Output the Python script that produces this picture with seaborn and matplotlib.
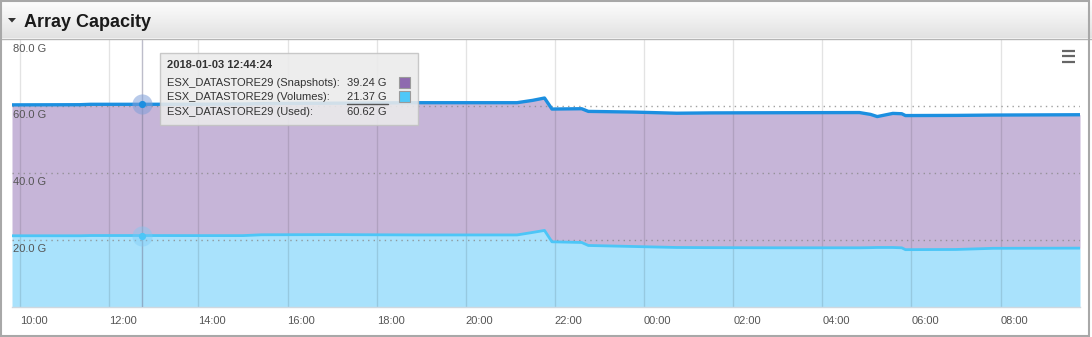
import matplotlib
matplotlib.use("Agg")
import matplotlib.pyplot as plt
import seaborn as sns
import pandas as pd
import numpy as np
from matplotlib.patches import Rectangle, Polygon
from matplotlib.lines import Line2D

# ---------------- data ----------------
times = ["2018-01-03 09:49:00", "2018-01-03 11:20:00", "2018-01-03 11:35:00", "2018-01-03 12:44:24",
         "2018-01-03 14:00:00", "2018-01-03 15:00:00", "2018-01-03 15:25:00", "2018-01-03 17:00:00",
         "2018-01-03 18:55:00", "2018-01-03 21:09:00", "2018-01-03 21:30:00", "2018-01-03 21:46:00",
         "2018-01-03 21:56:00", "2018-01-03 22:36:00", "2018-01-03 22:45:00", "2018-01-03 23:45:00",
         "2018-01-04 00:44:00", "2018-01-04 01:30:00", "2018-01-04 03:00:00", "2018-01-04 04:50:00",
         "2018-01-04 05:05:00", "2018-01-04 05:14:00", "2018-01-04 05:35:00", "2018-01-04 05:47:00",
         "2018-01-04 05:52:00", "2018-01-04 07:00:00", "2018-01-04 07:50:00", "2018-01-04 09:47:00"]
used = [60.45, 60.50, 60.62, 60.62,
        60.65, 60.70, 60.85, 60.95,
        61.10, 61.10, 61.80, 62.50,
        59.20, 59.30, 58.50, 58.30,
        57.95, 58.05, 58.10, 58.15,
        57.60, 56.95, 57.90, 57.80,
        57.25, 57.30, 57.40, 57.50]
volumes = [21.30, 21.30, 21.37, 21.37,
           21.35, 21.35, 21.60, 21.65,
           21.55, 21.55, 22.30, 22.90,
           19.50, 19.30, 18.40, 18.10,
           17.80, 17.75, 17.70, 17.70,
           17.75, 17.80, 17.80, 17.70,
           17.15, 17.20, 17.55, 17.60]
y_ticks = [20, 40, 60, 80]
x_ticks = ["2018-01-03 10:00:00", "2018-01-03 12:00:00", "2018-01-03 14:00:00", "2018-01-03 16:00:00",
           "2018-01-03 18:00:00", "2018-01-03 20:00:00", "2018-01-03 22:00:00", "2018-01-04 00:00:00",
           "2018-01-04 02:00:00", "2018-01-04 04:00:00", "2018-01-04 06:00:00", "2018-01-04 08:00:00"]
x_tick_labels = ["10:00", "12:00", "14:00", "16:00", "18:00", "20:00",
                 "22:00", "00:00", "02:00", "04:00", "06:00", "08:00"]
title = "Array Capacity"
tip_time = "2018-01-03 12:44:24"
tip_labels = ["ESX_DATASTORE29 (Snapshots):", "ESX_DATASTORE29 (Volumes):", "ESX_DATASTORE29 (Used):"]
tip_values = ["39.24 G", "21.37 G", "60.62 G"]
tip_used = 60.62
tip_vol = 21.37

df = pd.DataFrame({"time": pd.to_datetime(times, format="%Y-%m-%d %H:%M:%S"),
                   "used": used, "volumes": volumes})

# ---------------- figure ----------------
sns.set_style("white")
plt.rcParams['font.family'] = ['Liberation Sans', 'DejaVu Sans']

W, H = 1092, 337
fig = plt.figure(figsize=(W / 100, H / 100), dpi=100)
fig.patch.set_facecolor("white")

def fx(px):
    return px / W

def fy(py):
    return 1 - py / H

# header gradient
hax = fig.add_axes([0, fy(38.5), 1, 38.5 / H])
g = np.linspace(1.0, 0.885, 64)
grad = np.dstack([g, g, g]).reshape(64, 1, 3)
hax.imshow(grad, aspect='auto', extent=[0, 1, 0, 1])
hax.axis('off')
fig.add_artist(Line2D([0, 1], [fy(38.5), fy(38.5)], transform=fig.transFigure, color='#b5b5b5', lw=1))
fig.add_artist(Polygon([(fx(8), fy(18)), (fx(16), fy(18)), (fx(12), fy(22.5))], closed=True,
                       transform=fig.transFigure, fc='#333333', ec='none'))
fig.text(fx(24), fy(27), title, fontsize=13, fontweight='bold', color='#1a1a1a', va='baseline', ha='left')

# plot axes
ax = fig.add_axes([fx(12), fy(307), fx(1080 - 12), (307 - 39.5) / H])
ax.set_facecolor('white')
ax.fill_between(df["time"], 0, df["volumes"], color='#a9e2fc', lw=0, zorder=1)
ax.fill_between(df["time"], df["volumes"], df["used"], color='#c6b5d8', lw=0, zorder=1)
sns.lineplot(data=df, x="time", y="volumes", color='#4cc6f7', lw=2, ax=ax, zorder=4)
sns.lineplot(data=df, x="time", y="used", color='#1c8fe0', lw=2.4, ax=ax, zorder=5)

ax.set_xlim(df["time"].iloc[0], df["time"].iloc[-1])
ax.set_ylim(0, 80)
xt = pd.to_datetime(x_ticks, format="%Y-%m-%d %H:%M:%S")
ax.set_xticks(xt, labels=x_tick_labels, ha='left')
ax.set_yticks([])
ax.set_xlabel('')
ax.set_ylabel('')
ax.tick_params(axis='x', length=5, width=1, color='#a8cfe6', labelsize=8, labelcolor='#555555', pad=1.5)
for t in xt:
    ax.axvline(t, color='black', alpha=0.11, lw=1, zorder=2)
for v in y_ticks[:-1]:
    ax.axhline(v, color='#888888', ls=(0, (1, 3)), lw=1, zorder=2, alpha=0.8)
for s in ['top', 'left', 'right']:
    ax.spines[s].set_visible(False)
ax.spines['bottom'].set_color('#cfd8e0')
ax.spines['bottom'].set_linewidth(1)
for v in y_ticks:
    ax.annotate(f"{v:.1f} G", xy=(0, v), xycoords=('axes fraction', 'data'), xytext=(1, -9),
                textcoords='offset pixels', ha='left', va='center', fontsize=8, color='#555555', zorder=6)

# crosshair & markers
t0 = pd.Timestamp(tip_time)
ax.axvline(t0, color='#6e6e8a', alpha=0.45, lw=1, zorder=3)
ax.plot([t0], [tip_used], 'o', ms=14.5, color='#7f9fd9', alpha=0.55, mec='none', zorder=6)
ax.plot([t0], [tip_used], 'o', ms=5.2, color='#1c8fe0', mec='none', zorder=7)
ax.plot([t0], [tip_vol], 'o', ms=14.5, color='#7ccaf5', alpha=0.4, mec='none', zorder=6)
ax.plot([t0], [tip_vol], 'o', ms=5.2, color='#4cc6f7', mec='none', zorder=7)

# tooltip
fig.add_artist(Rectangle((fx(160), fy(125)), fx(258), 72.5 / H, transform=fig.transFigure,
                         fc='#ebebeb', alpha=0.88, ec='#c2c2c2', lw=1, zorder=10))
fig.text(fx(167), fy(65), tip_time, fontsize=8, fontweight='bold', color='#333333',
         va='center', ha='left', zorder=11)
row_y = [83.3, 97.3, 111.7]
for lbl, val, yy in zip(tip_labels, tip_values, row_y):
    fig.text(fx(167), fy(yy), lbl, fontsize=8, color='#333333', va='center', ha='left', zorder=11)
    fig.text(fx(386.5), fy(yy), val, fontsize=8, color='#333333', va='center', ha='right', zorder=11)
fig.add_artist(Line2D([fx(347), fx(388)], [fy(104), fy(104)], transform=fig.transFigure,
                      color='#555555', lw=1, zorder=11))
fig.add_artist(Rectangle((fx(399), fy(88.3)), fx(11), 11 / H, transform=fig.transFigure,
                         fc='#8e6aaf', ec='#9a9a9a', lw=0.8, zorder=11))
fig.add_artist(Rectangle((fx(399), fy(101.7)), fx(11), 11 / H, transform=fig.transFigure,
                         fc='#4fc8f8', ec='#9a9a9a', lw=0.8, zorder=11))

# hamburger menu
for yy in [50.5, 56, 61.5]:
    fig.add_artist(Line2D([fx(1062), fx(1075)], [fy(yy), fy(yy)], transform=fig.transFigure,
                          color='#666666', lw=1.6, solid_capstyle='butt', zorder=11))

# outer border
fig.add_artist(Rectangle((fx(0.8), fy(335.5)), fx(1088), 334.7 / H, transform=fig.transFigure,
                         fc='none', ec='#a8a8a8', lw=1.5, zorder=12))

fig.savefig("out.png", dpi=100)
